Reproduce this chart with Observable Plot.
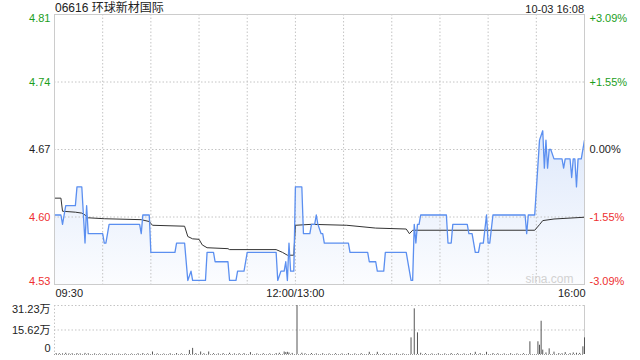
<!DOCTYPE html>
<html><head><meta charset="utf-8">
<script src="https://cdn.jsdelivr.net/npm/d3@7"></script>
<script src="https://cdn.jsdelivr.net/npm/@observablehq/plot@0.6"></script>
<style>
body{margin:0;background:#fff;font-family:"Liberation Sans",Arial,"Noto Sans CJK SC",sans-serif;}
#wrap{position:relative;width:640px;height:360px;overflow:hidden;}
#title{position:absolute;left:55px;top:0px;font-size:12px;line-height:16px;color:#222;}
#stamp{position:absolute;right:56px;top:1px;font-size:11px;line-height:16px;color:#222;}
#main{position:absolute;left:0;top:0;}
#vol{position:absolute;left:0;top:300px;}
</style></head>
<body><div id="wrap"><div id="main"></div><div id="vol"></div><div id="title"></div><div id="stamp"></div></div>
<script>
const stockName = "06616 环球新材国际";
const stampText = "10-03 16:08";
const prevClose = 4.67;
const pctRange = 3.09;

const priceTimes = ["09:30","09:34","09:35","09:36","09:37","09:43","09:44","09:47","09:49","09:50","09:51","10:00","10:01","10:02","10:04","10:23","10:24","10:25","10:29","10:30","10:45","10:46","10:51","10:53","10:55","10:56","11:04","11:05","11:09","11:10","11:18","11:19","11:23","11:24","11:28","11:30","11:48","11:49","11:51","11:53","11:54","11:55","11:56","11:57","11:59","13:00","13:04","13:05","13:09","13:10","13:12","13:13","13:14","13:16","13:17","13:18","13:33","13:34","13:45","13:46","13:50","13:51","13:55","13:56","14:09","14:11","14:12","14:13","14:14","14:15","14:16","14:17","14:18","14:34","14:35","14:37","14:38","14:47","14:48","14:50","14:52","14:54","14:55","14:57","14:59","15:00","15:01","15:03","15:23","15:24","15:25","15:29","15:32","15:34","15:35","15:36","15:37","15:38","15:39","15:41","15:46","15:47","15:48","15:51","15:52","15:53","15:54","15:55","15:56","15:58","16:00"];
const prices = [4.60,4.60,4.59,4.60,4.61,4.61,4.63,4.63,4.57,4.61,4.58,4.58,4.57,4.57,4.59,4.59,4.58,4.60,4.60,4.56,4.56,4.57,4.57,4.53,4.54,4.53,4.53,4.56,4.56,4.55,4.55,4.53,4.53,4.54,4.54,4.56,4.56,4.53,4.54,4.54,4.55,4.53,4.57,4.54,4.54,4.63,4.63,4.58,4.58,4.59,4.59,4.60,4.59,4.58,4.58,4.57,4.57,4.56,4.56,4.55,4.55,4.54,4.54,4.56,4.56,4.54,4.53,4.53,4.59,4.57,4.59,4.59,4.60,4.60,4.57,4.57,4.59,4.59,4.58,4.58,4.56,4.56,4.57,4.57,4.60,4.57,4.57,4.60,4.60,4.58,4.60,4.60,4.68,4.69,4.65,4.68,4.65,4.67,4.67,4.66,4.66,4.65,4.66,4.66,4.64,4.66,4.66,4.63,4.66,4.66,4.68];

const avgTimes = ["09:30","09:34","09:35","09:43","09:47","09:49","09:51","10:01","10:24","10:29","10:31","10:51","10:53","10:56","11:00","11:02","11:05","11:18","11:19","11:48","11:52","11:55","11:59","13:00","13:10","13:32","13:50","14:09","14:11","14:13","15:29","15:32","15:34","15:41","16:00"];
const avgPrices = [4.618,4.618,4.604,4.603,4.602,4.600,4.597,4.596,4.595,4.593,4.589,4.588,4.577,4.5745,4.574,4.568,4.565,4.564,4.563,4.563,4.560,4.557,4.557,4.589,4.590,4.589,4.586,4.585,4.580,4.5837,4.5837,4.5897,4.594,4.5957,4.5976];

// volume in 万 shares
const volTimes = ["09:31","09:33","09:35","09:37","09:39","09:41","09:44","09:46","09:49","09:51","09:55","09:58","10:02","10:06","10:10","10:14","10:18","10:22","10:25","10:28","10:31","10:34","10:38","10:42","10:46","10:49","10:54","10:56","10:58","11:01","11:03","11:06","11:09","11:12","11:15","11:19","11:22","11:25","11:28","11:32","11:36","11:40","11:44","11:48","11:50","11:53","11:54","11:55","11:56","11:58","13:01","13:04","13:06","13:10","13:13","13:17","13:21","13:25","13:29","13:33","13:37","13:41","13:46","13:51","13:55","13:59","14:03","14:07","14:12","14:14","14:16","14:18","14:21","14:25","14:29","14:33","14:37","14:41","14:45","14:49","14:52","14:55","14:59","15:03","15:06","15:10","15:14","15:18","15:22","15:26","15:31","15:32","15:33","15:34","15:36","15:38","15:41","15:44","15:46","15:48","15:51","15:53","15:55","15:57","15:59","16:00"];
const volumes = [0.6,0.5,0.4,0.8,0.4,0.5,0.6,0.4,0.7,0.5,0.4,0.3,0.5,0.4,0.3,0.4,0.3,0.5,0.6,0.4,1.6,0.4,0.3,0.5,0.6,0.4,2.6,3.9,0.6,1.6,0.5,1.6,0.5,0.4,0.6,0.8,0.4,0.5,0.6,1.2,0.4,0.5,0.4,0.6,0.8,1.6,1.2,1.4,1.0,0.7,31.23,0.8,0.5,0.6,0.4,0.5,0.4,0.5,0.4,0.6,0.4,0.5,1.4,1.4,0.6,0.4,0.5,0.4,10.6,29.1,13.8,0.8,0.5,0.4,0.5,0.4,0.6,0.5,0.4,0.5,1.4,0.6,1.4,0.6,0.5,0.4,0.5,0.4,0.5,8.1,8.1,5.9,21.2,2.8,1.0,3.6,1.5,0.6,0.5,1.2,0.6,1.0,0.8,0.7,4.9,10.6];

const xTickTimes = ["09:30","12:00","16:00"];
const xTickLabels = ["09:30","12:00/13:00","16:00"];
const gridTimes = ["10:00","10:30","11:00","11:30","12:00","13:30","14:00","14:30","15:00","15:30"];
const yPctTicks = [-3.09,-1.545,0,1.545,3.09];
const yPriceLabels = ["4.53","4.60","4.67","4.74","4.81"];
const yPctLabels = ["-3.09%","-1.55%","0.00%","+1.55%","+3.09%"];
const volTicks = [0,15.62,31.23];
const volLabels = ["0","15.62万","31.23万"];
const watermark = "sina.com";

document.getElementById("title").textContent = stockName;
document.getElementById("stamp").textContent = stampText;

const toIdx = t => { const [h,m] = t.split(":").map(Number); const v = h*60+m; return v <= 720 ? v-570 : v-780+150; };
const lo = prevClose*(1-pctRange/100), hi = prevClose*(1+pctRange/100);
const priceData = priceTimes.map((t,i)=>({x:toIdx(t), p:prices[i]}));
const avgData = avgTimes.map((t,i)=>({x:toIdx(t), p:avgPrices[i]}));
const volData = volTimes.map((t,i)=>({x:toIdx(t), v:volumes[i]}));
const colorFor = k => k>0 ? "#1c9e1c" : k<0 ? "#ee3030" : "#222";
const ticks = yPctTicks.map((k,i)=>({v:prevClose*(1+k/100), price:yPriceLabels[i], pct:yPctLabels[i], c:colorFor(k)}));
const xt = xTickTimes.map((t,i)=>({x:toIdx(t), label:xTickLabels[i]}));
const FONT = "'Liberation Sans',Arial,'Noto Sans CJK SC',sans-serif";

const gradDefs = () => {
  const defs = d3.create("svg:defs");
  const g = defs.append("linearGradient").attr("id","pg").attr("x1",0).attr("x2",0).attr("y1",0).attr("y2",1);
  g.append("stop").attr("offset","0%").attr("stop-color","#3d7ae6").attr("stop-opacity",0.17);
  g.append("stop").attr("offset","100%").attr("stop-color","#3d7ae6").attr("stop-opacity",0.02);
  return defs.node();
};
const grid = {stroke:"#c4c4c4", strokeDasharray:"1.5,2", strokeWidth:1};

const main = Plot.plot({
  width:640, height:304, marginTop:14, marginBottom:20, marginLeft:54, marginRight:56,
  x:{domain:[0,330], axis:null}, y:{domain:[lo,hi], axis:null},
  color:{type:"identity"},
  style:{fontFamily:FONT, fontSize:"11px", background:"transparent"},
  marks:[
    gradDefs,
    Plot.areaY(priceData,{x:"x", y1:lo, y2:"p", fill:"url(#pg)"}),
    Plot.ruleX(gridTimes.map(toIdx), grid),
    Plot.ruleY(ticks.slice(1,4), {y:"v", ...grid}),
    Plot.text([watermark],{frameAnchor:"bottom-right", dx:-11, dy:-2, lineAnchor:"bottom", fill:"#d2d2d2", fontSize:12}),
    Plot.lineY(avgData,{x:"x", y:"p", stroke:"#333", strokeWidth:1}),
    Plot.lineY(priceData,{x:"x", y:"p", stroke:"#5b8ff0", strokeWidth:1.3}),
    Plot.frame({stroke:"#cccccc"}),
    Plot.text(ticks.slice(1,4),{frameAnchor:"left", y:"v", text:"price", fill:"c", textAnchor:"end", dx:-4}),
    Plot.text(ticks.slice(4),{frameAnchor:"left", y:"v", text:"price", fill:"c", textAnchor:"end", dx:-4, lineAnchor:"top"}),
    Plot.text(ticks.slice(0,1),{frameAnchor:"left", y:"v", text:"price", fill:"c", textAnchor:"end", dx:-4, lineAnchor:"bottom"}),
    Plot.text(ticks.slice(1,4),{frameAnchor:"right", y:"v", text:"pct", fill:"c", textAnchor:"start", dx:5}),
    Plot.text(ticks.slice(4),{frameAnchor:"right", y:"v", text:"pct", fill:"c", textAnchor:"start", dx:5, lineAnchor:"top"}),
    Plot.text(ticks.slice(0,1),{frameAnchor:"right", y:"v", text:"pct", fill:"c", textAnchor:"start", dx:5, lineAnchor:"bottom"}),
    Plot.text(xt.slice(0,1),{x:"x", frameAnchor:"bottom", text:"label", textAnchor:"start", dy:12, dx:1, fill:"#222"}),
    Plot.text(xt.slice(1,2),{x:"x", frameAnchor:"bottom", text:"label", textAnchor:"middle", dy:12, fill:"#222"}),
    Plot.text(xt.slice(2),{x:"x", frameAnchor:"bottom", text:"label", textAnchor:"end", dy:12, dx:1, fill:"#222"})
  ]
});
document.getElementById("main").appendChild(main);

const vt = volTicks.map((v,i)=>({v, label:volLabels[i]}));
const vol = Plot.plot({
  width:640, height:60, marginTop:5, marginBottom:6, marginLeft:54, marginRight:56,
  x:{domain:[0,330], axis:null}, y:{domain:[0,volTicks[2]], axis:null},
  style:{fontFamily:FONT, fontSize:"11px", background:"transparent"},
  marks:[
    Plot.ruleY(vt.slice(1), {y:"v", ...grid}),
    Plot.ruleX([0], grid),
    Plot.ruleX([330], {stroke:"#cccccc"}),
    Plot.ruleY([0], {stroke:"#999", strokeDasharray:"1,1"}),
    Plot.ruleX(volData,{x:"x", y1:0, y2:"v", stroke:"#555", strokeWidth:1}),
    Plot.text(vt.slice(2),{frameAnchor:"left", y:"v", text:"label", textAnchor:"end", dx:-4, lineAnchor:"top", fill:"#222"}),
    Plot.text(vt.slice(1,2),{frameAnchor:"left", y:"v", text:"label", textAnchor:"end", dx:-4, fill:"#222"}),
    Plot.text(vt.slice(0,1),{frameAnchor:"left", y:"v", text:"label", textAnchor:"end", dx:-4, dy:-3, lineAnchor:"bottom", fill:"#222"})
  ]
});
document.getElementById("vol").appendChild(vol);
</script>
</body></html>
